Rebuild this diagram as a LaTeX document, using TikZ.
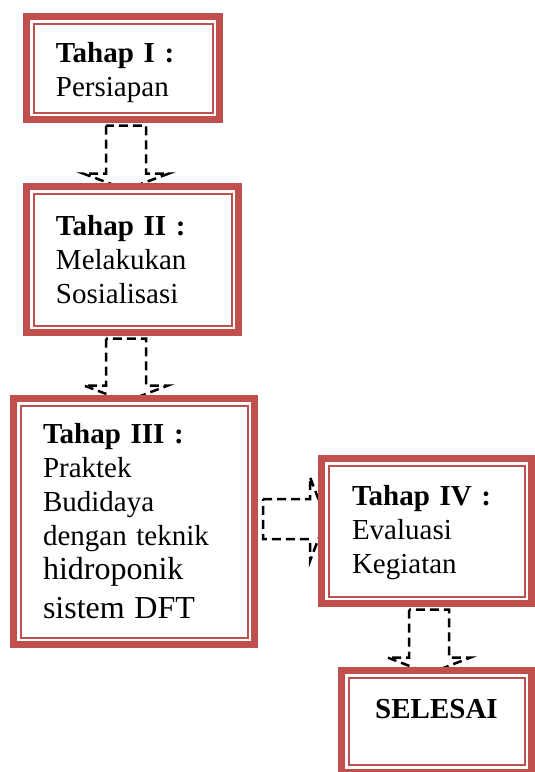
\documentclass[tikz,border=0pt]{standalone}
\usepackage{fontspec}
\setmainfont{Liberation Serif}
\usetikzlibrary{calc,backgrounds}
\definecolor{boxred}{HTML}{C0504D}
\tikzset{
  stagebox/.style={draw=boxred, line width=7pt, fill=white, outer sep=0pt,
    inner xsep=29.5pt, inner ysep=0pt, align=left,
    font=\fontsize{29}{34}\selectfont},
  innerframe/.style={draw=boxred, line width=2pt},
  blockarrow/.style={draw=black, line width=2.5pt, dash pattern=on 9pt off 5pt, line join=miter},
}
\newcommand\downblock[4]{%
  \draw[blockarrow] let \p1=($(#1.south)+(#3,0)$), \p2=(#2.north) in
    (\x1-20pt,\y1-6pt) -- (\x1-20pt,\y2+13pt) -- (\x1-#4,\y2+13pt) -- (\x1,\y2-3pt)
    -- (\x1+#4,\y2+13pt) -- (\x1+20pt,\y2+13pt) -- (\x1+20pt,\y1-6pt) -- cycle;}
\newcommand\rightblock[4]{%
  \draw[blockarrow] let \p1=($(#1.east)+(0,#3)$), \p2=(#2.west) in
    (\x1+8.5pt,\y1+20pt) -- (\x2-11.5pt,\y1+20pt) -- (\x2-11.5pt,\y1+#4) -- (\x2+4.5pt,\y1)
    -- (\x2-11.5pt,\y1-#4) -- (\x2-11.5pt,\y1-20pt) -- (\x1+8.5pt,\y1-20pt) -- cycle;}
\begin{document}
\begin{tikzpicture}[x=1pt,y=-1pt]
\useasboundingbox (0,0) rectangle (535,772);

\node[stagebox, minimum width=193pt, minimum height=103pt, text width=134pt] (b1) at (123,68)
  {\rule{0pt}{30pt}\textbf{Tahap I :}\\ Persiapan};
\node[stagebox, minimum width=212pt, minimum height=146pt, text width=153pt] (b2) at (132.5,259.5)
  {\rule{0pt}{19pt}\textbf{Tahap II :}\\ Melakukan\\ Sosialisasi};
\node[stagebox, minimum width=241pt, minimum height=246pt, text width=182pt] (b3) at (134,521.5)
  {\textbf{Tahap III :}\\ Praktek\\ Budidaya\\ dengan teknik\\ {\fontsize{32}{34}\selectfont hidroponik}\\[5pt] {\fontsize{32}{34}\selectfont sistem DFT}};
\node[stagebox, inner xsep=30.5pt, minimum width=210pt, minimum height=145pt, text width=149pt] (b4) at (426.5,531)
  {\rule{0pt}{24pt}\textbf{Tahap IV :}\\ Evaluasi\\ Kegiatan};
\node[stagebox, inner xsep=0pt, align=center, minimum width=190pt, minimum height=101.5pt,
  text height=20pt, text depth=26.5pt] (b5) at (436.5,721.25) {\textbf{SELESAI}};

\foreach \b in {b1,b2,b3,b4,b5}
  \draw[innerframe] ($(\b.north west)+(7,7)$) rectangle ($(\b.south east)+(-7,-7)$);

\begin{pgfonlayer}{background}
  \downblock{b1}{b2}{3pt}{43pt}
  \downblock{b2}{b3}{-6.5pt}{42pt}
  \rightblock{b3}{b4}{-2.5}{42pt}
  \downblock{b4}{b5}{2.5pt}{41.5pt}
\end{pgfonlayer}
\end{tikzpicture}
\end{document}
